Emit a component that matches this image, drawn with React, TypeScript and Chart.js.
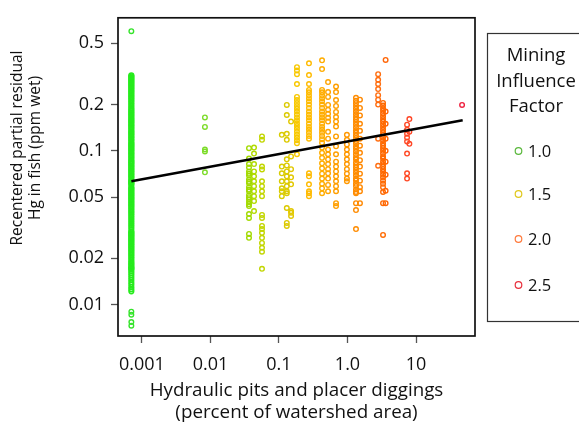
import React, { useEffect, useRef } from 'react';
import { Chart, registerables } from 'chart.js';

Chart.register(...registerables);

// ---- Axis ticks ----
const xTickValues = [0.001, 0.01, 0.1, 1, 10];
const xTickLabels = ['0.001', '0.01', '0.1', '1.0', '10'];
const yTickValues = [0.01, 0.02, 0.05, 0.1, 0.2, 0.5];
const yTickLabels = ['0.01', '0.02', '0.05', '0.1', '0.2', '0.5'];

const xTitle = ['Hydraulic pits and placer diggings', '(percent of watershed area)'];
const yTitle = ['Recentered partial residual', 'Hg in fish (ppm wet)'];
const legendTitle = ['Mining', 'Influence', 'Factor'];
const legendLabels = ['1.0', '1.5', '2.0', '2.5'];

// ---- Data: x position of each column of fish samples ----
const groupX = [0.0007, 0.0007, 0.0083, 0.0365, 0.0432, 0.0565, 0.11, 0.13, 0.15, 0.183, 0.274, 0.425, 0.52, 0.68, 0.98, 1.33, 1.52, 2.8, 3.3, 3.6, 7.4, 8.0, 47];

// Hg residual values for each column
const y1 = [0.31, 0.305, 0.30, 0.295, 0.29, 0.285, 0.28, 0.275, 0.27, 0.265, 0.26, 0.255, 0.25, 0.245, 0.24, 0.235, 0.23, 0.225, 0.22, 0.215, 0.21, 0.205, 0.20, 0.195, 0.19, 0.186, 0.182, 0.178, 0.175, 0.171, 0.168, 0.164, 0.161, 0.158, 0.155, 0.152, 0.149, 0.146, 0.143, 0.14, 0.137, 0.134, 0.132, 0.129, 0.127, 0.124, 0.122, 0.119, 0.117, 0.114, 0.112, 0.11, 0.108, 0.106, 0.104, 0.102, 0.1, 0.098, 0.096, 0.094, 0.092, 0.09, 0.088, 0.086, 0.085, 0.083, 0.082, 0.08, 0.079, 0.077, 0.076, 0.074, 0.073, 0.071, 0.07, 0.068, 0.067, 0.065, 0.064, 0.063, 0.062, 0.061, 0.06, 0.058, 0.057, 0.056, 0.055, 0.054, 0.053, 0.052, 0.051, 0.05, 0.049, 0.048, 0.047, 0.046, 0.045, 0.044, 0.043, 0.042, 0.041, 0.04, 0.039, 0.038, 0.037, 0.036, 0.035, 0.034, 0.033, 0.032, 0.031, 0.03, 0.0295, 0.029, 0.0285, 0.028, 0.0275, 0.027, 0.0265, 0.026, 0.0255, 0.025, 0.0245, 0.024, 0.0235, 0.023, 0.0225, 0.022, 0.0215, 0.021, 0.0205, 0.02, 0.0195, 0.019, 0.0186, 0.0182, 0.0178, 0.0175, 0.0172, 0.017, 0.0165, 0.016, 0.0155, 0.015, 0.0145, 0.014, 0.0135, 0.013, 0.0126, 0.0122];
const y1Outliers = [0.6, 0.009, 0.0086, 0.0077, 0.0073];
const y2 = [0.165, 0.143, 0.102, 0.099, 0.0725];
const y3 = [0.104, 0.089, 0.082, 0.078, 0.0735, 0.071, 0.069, 0.065, 0.063, 0.0615, 0.058, 0.056, 0.0546, 0.0515, 0.05, 0.0485, 0.0464, 0.045, 0.0437, 0.0388, 0.0366, 0.0288, 0.0272];
const y4 = [0.105, 0.096, 0.082, 0.0735, 0.0683, 0.0634, 0.0589, 0.0546, 0.0507, 0.0471, 0.0406];
const y5 = [0.124, 0.118, 0.079, 0.0757, 0.0634, 0.0589, 0.0546, 0.0507, 0.0383, 0.0366, 0.0325, 0.031, 0.0293, 0.0272, 0.0252, 0.0234, 0.0221, 0.0171];
const y6 = [0.127, 0.079, 0.0714, 0.0634, 0.0571, 0.0546, 0.0507];
const y7 = [0.199, 0.171, 0.129, 0.118, 0.088, 0.0804, 0.0735, 0.0683, 0.0634, 0.0589, 0.0546, 0.053, 0.0425, 0.034, 0.0325];
const y8 = [0.155, 0.092, 0.076, 0.0673, 0.0606, 0.0406, 0.0395, 0.0377];
const y9 = [0.35, 0.333, 0.315, 0.272, 0.224, 0.214, 0.205, 0.196, 0.188, 0.18, 0.172, 0.165, 0.158, 0.151, 0.145, 0.139, 0.133, 0.127, 0.122, 0.117, 0.112, 0.095];
const y10 = [0.371, 0.311, 0.272, 0.249, 0.24, 0.23, 0.22, 0.21, 0.2, 0.19, 0.18, 0.172, 0.165, 0.158, 0.15, 0.143, 0.137, 0.131, 0.125, 0.12, 0.0714, 0.0683, 0.0606, 0.0546, 0.053, 0.0507];
const y11 = [0.388, 0.34, 0.249, 0.24, 0.23, 0.22, 0.21, 0.2, 0.19, 0.18, 0.172, 0.165, 0.158, 0.15, 0.143, 0.137, 0.131, 0.125, 0.119, 0.113, 0.105, 0.097, 0.09, 0.083, 0.077, 0.071, 0.066, 0.061, 0.057, 0.053];
const y12 = [0.28, 0.241, 0.224, 0.199, 0.185, 0.174, 0.164, 0.155, 0.133, 0.12, 0.102, 0.095, 0.088, 0.082, 0.076, 0.0714, 0.066, 0.06, 0.0546];
const y13 = [0.262, 0.241, 0.214, 0.196, 0.179, 0.166, 0.155, 0.144, 0.124, 0.107, 0.095, 0.085, 0.079, 0.0735, 0.0683, 0.0634, 0.0589, 0.0546, 0.0457, 0.0437];
const y14 = [0.127, 0.118, 0.11, 0.102, 0.095, 0.088, 0.082, 0.076, 0.071, 0.066, 0.0634];
const y15 = [0.221, 0.212, 0.204, 0.196, 0.188, 0.18, 0.173, 0.166, 0.16, 0.154, 0.148, 0.142, 0.136, 0.131, 0.126, 0.121, 0.116, 0.112, 0.107, 0.103, 0.099, 0.095, 0.091, 0.088, 0.084, 0.081, 0.078, 0.075, 0.072, 0.069, 0.066, 0.064, 0.061, 0.059, 0.056, 0.054, 0.053, 0.0457, 0.0412, 0.031];
const y16 = [0.215, 0.19, 0.17, 0.15, 0.135, 0.12, 0.108, 0.097, 0.087, 0.079, 0.071, 0.064, 0.058, 0.0546, 0.0457];
const y17 = [0.315, 0.29, 0.272, 0.252, 0.23, 0.215, 0.2, 0.12, 0.08];
const y18 = [0.205, 0.197, 0.189, 0.182, 0.175, 0.168, 0.161, 0.155, 0.149, 0.143, 0.137, 0.132, 0.127, 0.122, 0.117, 0.112, 0.108, 0.104, 0.1, 0.096, 0.092, 0.089, 0.085, 0.082, 0.079, 0.076, 0.073, 0.07, 0.067, 0.064, 0.061, 0.058, 0.054, 0.0457, 0.0284];
const y19 = [0.39, 0.18, 0.15, 0.12, 0.1, 0.085, 0.07, 0.055, 0.0457];
const y20 = [0.148, 0.137, 0.129, 0.122, 0.115, 0.096, 0.0714, 0.066];
const y21 = [0.161, 0.133, 0.111];
const y22 = [0.199];

const groupY = [y1, y1Outliers, y2, y3, y4, y5, y6, y7, y8, y9, y10, y11, y12, y13, y14, y15, y16, y17, y18, y19, y20, y21, y22];

// regression line endpoints
const fitX = [0.0007, 48];
const fitY = [0.0634, 0.158];

// ---- Styles ----
const groupColor = ['#26ec1c', '#36e42c', '#7ddc2a', '#a2da00', '#b2da00', '#c2d600', '#d8cc00', '#dcca00', '#e2c800', '#f8c800', '#ffbb00', '#ffad00', '#ffa500', '#ff9f00', '#ff9800', '#ff8c00', '#ff8800', '#ff6e10', '#ff6a00', '#ff6608', '#ff4a26', '#ff4626', '#ee2240'];
const groupBorder = [1.6, 1.4];
const legendColor = ['#5ab83c', '#e0c81c', '#ff7a3c', '#e8303c'];
const FONT = '"Open Sans", "DejaVu Sans", sans-serif';

const decorPlugin = {
  id: 'decor',
  afterDraw(chart: any) {
    const { ctx, chartArea: a } = chart;
    ctx.save();
    // frame
    ctx.strokeStyle = '#111';
    ctx.lineWidth = 1.7;
    ctx.strokeRect(a.left, a.top, a.right - a.left, a.bottom - a.top);

    ctx.fillStyle = '#111';
    ctx.textBaseline = 'alphabetic';
    ctx.textAlign = 'center';
    // x title
    ctx.font = `18.8px ${FONT}`;
    const cx = (a.left + a.right) / 2;
    ctx.fillText(xTitle[0], cx, 396);
    ctx.fillText(xTitle[1], cx, 418);
    // y title
    ctx.save();
    ctx.translate(0, 148);
    ctx.rotate(-Math.PI / 2);
    ctx.font = `15.5px ${FONT}`;
    ctx.fillText(yTitle[0], 0, 21.5);
    ctx.fillText(yTitle[1], 0, 39.5);
    ctx.restore();

    // legend box
    ctx.strokeStyle = '#333';
    ctx.lineWidth = 1.2;
    ctx.strokeRect(487.5, 33.5, 120, 288);
    ctx.font = `18.5px ${FONT}`;
    ctx.textAlign = 'center';
    const titleBase = [61, 87, 112];
    legendTitle.forEach((t, i) => ctx.fillText(t, 536, titleBase[i]));
    const itemBase = [157, 200, 245, 291];
    ctx.font = `16.5px ${FONT}`;
    ctx.textAlign = 'left';
    legendLabels.forEach((t, i) => {
      ctx.beginPath();
      ctx.strokeStyle = legendColor[i];
      ctx.lineWidth = 1.2;
      ctx.arc(518.5, itemBase[i] - 6, 3.3, 0, Math.PI * 2);
      ctx.stroke();
      ctx.fillStyle = '#111';
      ctx.fillText(t, 528, itemBase[i]);
    });
    ctx.restore();
  },
};

function labelFor(values: number[], labels: string[], v: number) {
  const i = values.findIndex((t) => Math.abs(t - v) / t < 1e-6);
  return i >= 0 ? labels[i] : '';
}

export default function App() {
  const ref = useRef<HTMLCanvasElement | null>(null);

  useEffect(() => {
    if (!ref.current) return;
    const datasets: any[] = [
      {
        label: 'fit',
        data: fitX.map((x, i) => ({ x, y: fitY[i] })),
        showLine: true,
        borderColor: '#000',
        borderWidth: 2.7,
        pointRadius: 0,
        fill: false,
        order: 0,
      },
    ];
    groupX.forEach((x, gi) => {
      datasets.push({
        label: 'g' + gi,
        data: groupY[gi].map((y) => ({ x, y })),
        showLine: false,
        pointRadius: 2.3,
        pointBorderWidth: groupBorder[gi] ?? 1.4,
        borderColor: groupColor[gi],
        backgroundColor: 'rgba(0,0,0,0)',
        order: 1,
      });
    });

    const tickFont = { family: FONT, size: 18 };
    const chart = new Chart(ref.current, {
      type: 'scatter',
      data: { datasets },
      plugins: [decorPlugin],
      options: {
        animation: false,
        responsive: false,
        devicePixelRatio: 1,
        layout: { padding: { left: 0, right: 104, top: 16, bottom: 0 } },
        plugins: { legend: { display: false }, tooltip: { enabled: false } },
        scales: {
          x: {
            type: 'logarithmic',
            min: 0.000447,
            max: 72.6,
            afterBuildTicks: (s: any) => {
              s.ticks = xTickValues.map((v) => ({ value: v }));
            },
            afterFit: (s: any) => {
              s.height = 87;
            },
            grid: { display: true, drawOnChartArea: false, drawTicks: true, tickLength: 7, tickColor: '#555', tickWidth: 1.3 },
            border: { display: false },
            ticks: {
              autoSkip: false,
              maxRotation: 0,
              color: '#111',
              font: tickFont,
              padding: 11,
              callback: (v: any) => labelFor(xTickValues, xTickLabels, Number(v)),
            },
          },
          y: {
            type: 'logarithmic',
            min: 0.00625,
            max: 0.733,
            afterBuildTicks: (s: any) => {
              s.ticks = yTickValues.map((v) => ({ value: v }));
            },
            afterFit: (s: any) => {
              s.width = 118;
            },
            grid: { display: true, drawOnChartArea: false, drawTicks: true, tickLength: 7, tickColor: '#555', tickWidth: 1.3 },
            border: { display: false },
            ticks: {
              autoSkip: false,
              color: '#111',
              font: tickFont,
              padding: 7,
              callback: (v: any) => labelFor(yTickValues, yTickLabels, Number(v)),
            },
          },
        },
      } as any,
    });
    return () => chart.destroy();
  }, []);

  return (
    <div style={{ position: 'absolute', left: 0, top: 0, width: 579, height: 423, background: '#fff' }}>
      <canvas ref={ref} width={579} height={423} style={{ display: 'block' }} />
    </div>
  );
}
